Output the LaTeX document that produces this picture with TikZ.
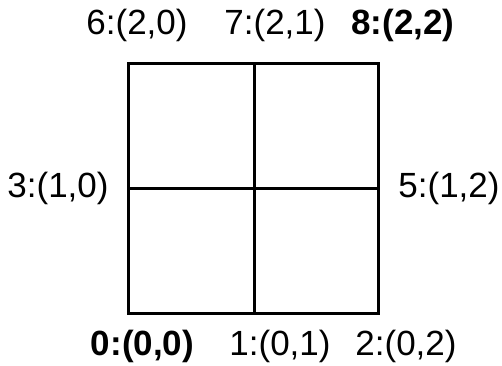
\documentclass[tikz,border=0pt]{standalone}
\usepackage{fontspec}
\setmainfont{Liberation Sans}
\begin{document}
\begin{tikzpicture}[x=0.5pt, y=-0.5pt, line width=1.5pt,
    every node/.style={font=\fontsize{17.5}{21}\selectfont}]
    \useasboundingbox (0,0) rectangle (502,365);
    \coordinate (c0) at (128.5,313);
    \coordinate (c1) at (254,313);
    \coordinate (c2) at (378,313);
    \coordinate (c3) at (128.5,188);
    \coordinate (c5) at (378,188);
    \coordinate (c6) at (128.5,63);
    \coordinate (c7) at (254,63);
    \coordinate (c8) at (378,63);
    
    \draw (c0) -- (c2) -- (c8) -- (c6) -- cycle;
    \draw (c1) -- (c7);
    \draw (c3) -- (c5);
    
    \node (v6) at (137,25) {6:(2,0)};
    \node (v7) at (275,25) {7:(2,1)};
    \node (v8) at (403,25) {\bfseries 8:(2,2)};
    \node (v3) at (58,188) {3:(1,0)};
    \node (v5) at (449,188) {5:(1,2)};
    \node (v0) at (142.5,346) {\bfseries 0:(0,0)};
    \node (v1) at (280,346) {1:(0,1)};
    \node (v2) at (406,346) {2:(0,2)};
\end{tikzpicture}
\end{document}
